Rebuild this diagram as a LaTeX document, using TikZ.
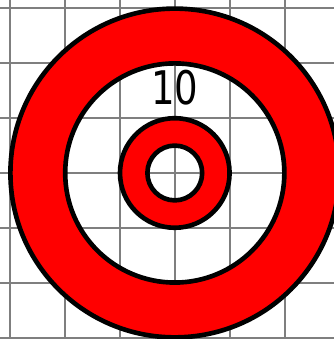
\documentclass[tikz,border=0pt]{standalone}
\usepackage{fontspec}
\usepackage{tikz}
\newfontfamily\labelfont{DejaVu Sans}
\definecolor{ringred}{HTML}{FF0000}
\definecolor{gridgrey}{HTML}{7F7F7F}
\begin{document}
\begin{tikzpicture}[
  gridline/.style={gridgrey, line width=1pt},
  ring/.style={fill=ringred, even odd rule},
  rim/.style={black, line width=2.4pt},
  x=54.8pt/1.93, y=54.8pt/1.93
]
\useasboundingbox (-3.19,-3.03) rectangle (2.905,3.157);
\clip (-3.19,-3.03) rectangle (2.905,3.157);
% Grid
\draw[gridline] (-3.19,-3.03) grid (2.905,3.157);
% Outer ring and inner ring
\fill[ring] (0,0) circle (3) (0,0) circle (2);
\fill[ring] (0,0) circle (1) (0,0) circle (0.5);
% Rims
\foreach \r in {3,2,1,0.5}
  \draw[rim] (0,0) circle (\r);
% Score
\node[font=\labelfont\fontsize{24}{24}\selectfont, xscale=0.8, inner sep=0pt] (lbl) at (0,1.55) {10};
\end{tikzpicture}
\end{document}
